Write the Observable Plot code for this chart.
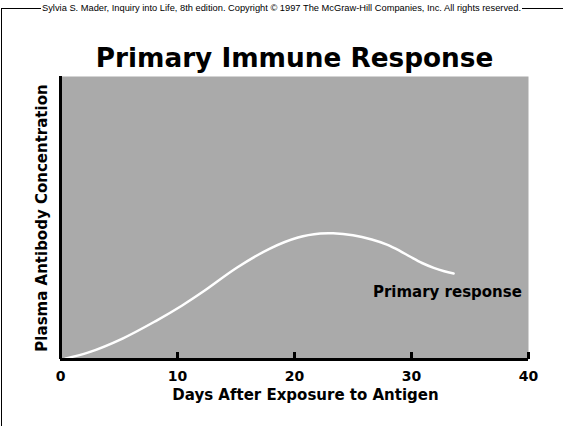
<!DOCTYPE html>
<html>
<head>
<meta charset="utf-8">
<script src="https://cdn.jsdelivr.net/npm/d3@7"></script>
<script src="https://cdn.jsdelivr.net/npm/@observablehq/plot@0.6"></script>
<style>
  html, body { margin: 0; padding: 0; background: #fff; }
  #wrap { position: relative; width: 563px; height: 426px; overflow: hidden; font-family: "Liberation Sans", Arial, Helvetica, sans-serif; }
  #border { position: absolute; left: 1px; top: 8px; right: -2px; bottom: -2px; border-left: 1px solid #000; border-top: 1px solid #000; pointer-events: none; z-index: 1; }
  #credit { position: absolute; left: 0; width: 563px; top: 2px; text-align: center; font-size: 9.3px; line-height: 12px; z-index: 2; pointer-events: none; }
  #credit span { background: #fff; padding: 0 1px; }
  svg { position: absolute; left: 0; top: 0; }
</style>
</head>
<body>
<div id="wrap">
  <div id="border"></div>
  <div id="credit"><span id="creditText"></span></div>
</div>
<script>
// ---- data ----
const credit = "Sylvia S. Mader, Inquiry into Life, 8th edition. Copyright \u00A9 1997 The McGraw-Hill Companies, Inc. All rights reserved.";
const title = "Primary Immune Response";
const xLabel = "Days After Exposure to Antigen";
const yLabel = "Plasma Antibody Concentration";
const xTicks = [0, 10, 20, 30, 40];
const days = [0.4, 2.4, 5.3, 8.1, 10.4, 12.2, 15.1, 17.9, 20.3, 22.2, 23.3, 25.0, 26.6, 27.9, 29.0, 29.9, 30.9, 31.9, 32.8, 33.6];
const concentration = [0.3, 2.5, 7.4, 13.5, 19.1, 24.0, 32.5, 39.2, 43.1, 44.5, 44.6, 43.9, 42.4, 40.6, 38.4, 36.3, 34.1, 32.4, 31.2, 30.4];
const seriesLabel = "Primary response";
const seriesLabelDay = 26.7;
const seriesLabelValue = 23.9;

const points = days.map((d, i) => ({day: d, value: concentration[i]}));
const boldFont = "DejaVu Sans, Liberation Sans, Arial, sans-serif";

document.getElementById("creditText").textContent = credit;

const chart = Plot.plot({
  width: 563,
  height: 426,
  marginLeft: 60,
  marginRight: 35,
  marginTop: 76,
  marginBottom: 67,
  style: {fontFamily: boldFont, background: "transparent", overflow: "visible"},
  x: {domain: [0, 40]},
  y: {domain: [0, 100], axis: null},
  marks: [
    Plot.frame({fill: "#aaaaaa", stroke: null}),
    Plot.line(points, {x: "day", y: "value", stroke: "white", strokeWidth: 2.5, curve: "catmull-rom"}),
    Plot.text([seriesLabel], {x: seriesLabelDay, y: seriesLabelValue, textAnchor: "start", fontSize: 15, fontWeight: "bold", fill: "#000"}),
    Plot.ruleX(xTicks, {x: d => d, insetTop: 276, stroke: "#000", strokeWidth: 3}),
    Plot.ruleX([0], {stroke: "#000", strokeWidth: 3}),
    Plot.ruleY([0], {stroke: "#000", strokeWidth: 3}),
    Plot.axisX({ticks: xTicks, tickSize: 0, tickPadding: 12, fontSize: 14, fontWeight: "bold", label: null, tickFormat: d => String(d), fill: "#000"}),
    Plot.text([xLabel], {frameAnchor: "bottom", dx: 11, dy: 40, fontSize: 15, fontWeight: "bold", fill: "#000"}),
    Plot.text([yLabel], {frameAnchor: "left", dx: -18, rotate: -90, textAnchor: "middle", fontSize: 15, fontWeight: "bold", fill: "#000"}),
    Plot.text([title], {frameAnchor: "top", dy: -28.5, fontSize: 26.3, fontWeight: "bold", fill: "#000"})
  ]
});
document.getElementById("wrap").appendChild(chart);
</script>
</body>
</html>
